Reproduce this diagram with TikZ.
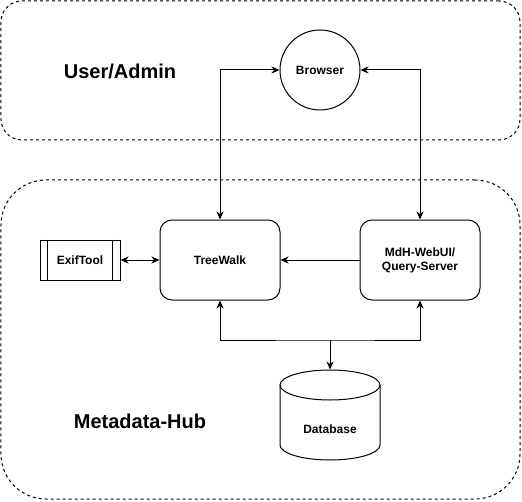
\documentclass[tikz,border=0pt]{standalone}
\usepackage{fontspec}
\setmainfont{Liberation Sans}
\usetikzlibrary{arrows.meta}

\begin{document}
\begin{tikzpicture}[x=1bp, y=-1bp, line width=1bp,
  >={Stealth[length=8bp,width=7bp,inset=2.5bp]},
  group/.style={draw, dash pattern=on 3bp off 3bp, inner sep=0pt,
    minimum width=519bp},
  bigtext/.style={font=\fontsize{20bp}{24bp}\selectfont\bfseries},
  smalltext/.style={font=\fontsize{12bp}{14bp}\selectfont\bfseries, align=center},
  procbox/.style={smalltext, draw, rounded corners=12bp, minimum width=120bp,
    minimum height=80bp, inner sep=0pt},
  toolbox/.style={smalltext, draw, minimum width=80bp, minimum height=40bp, inner sep=0pt},
  dbshape/.style={minimum width=100bp, minimum height=90bp, inner sep=0pt}]
\useasboundingbox (0,0) rectangle (522,502);

% groups
\node[group, rounded corners=21bp, minimum height=139bp] (useradmin) at (260.5,70.5) {};
\node[group, rounded corners=45bp, minimum height=319bp] (mdhub) at (260.5,339.5) {};
\node[bigtext] (useradminlabel) at (120,71) {User/Admin};
\node[bigtext] (mdhublabel) at (140,421) {Metadata-Hub};

% nodes
\node[smalltext, draw, circle, minimum size=80bp, inner sep=0pt] (browser) at (320,70) {Browser};
\node[procbox] (treewalk) at (220,260) {TreeWalk};
\node[procbox] (webui) at (420,260) {MdH-WebUI/\\Query-Server};
\node[toolbox] (exiftool) at (80,260) {ExifTool};
\draw ([xshift=8bp]exiftool.north west) -- ([xshift=8bp]exiftool.south west);
\draw ([xshift=-8bp]exiftool.north east) -- ([xshift=-8bp]exiftool.south east);

\node[dbshape] (database) at (330,415) {};
\draw (330,385) ellipse [x radius=50bp, y radius=15bp];
\draw (280,385) -- (280,445) arc[start angle=180, end angle=360, x radius=50bp, y radius=15bp] -- (380,385);
\node[smalltext] (dblabel) at (330,429) {Database};

% connectors
\draw[<->] (browser.west) -| (treewalk.north);
\draw[<->] (browser.east) -| (webui.north);
\draw[->] (webui.west) -- (treewalk.east);
\draw[<->] (exiftool.east) -- (treewalk.west);
\coordinate (dbjoin) at (330,340);
\draw[<->] (treewalk.south) |- (dbjoin) -| (webui.south);
\draw[->] (dbjoin) -- (database.north);

\end{tikzpicture}
\end{document}
